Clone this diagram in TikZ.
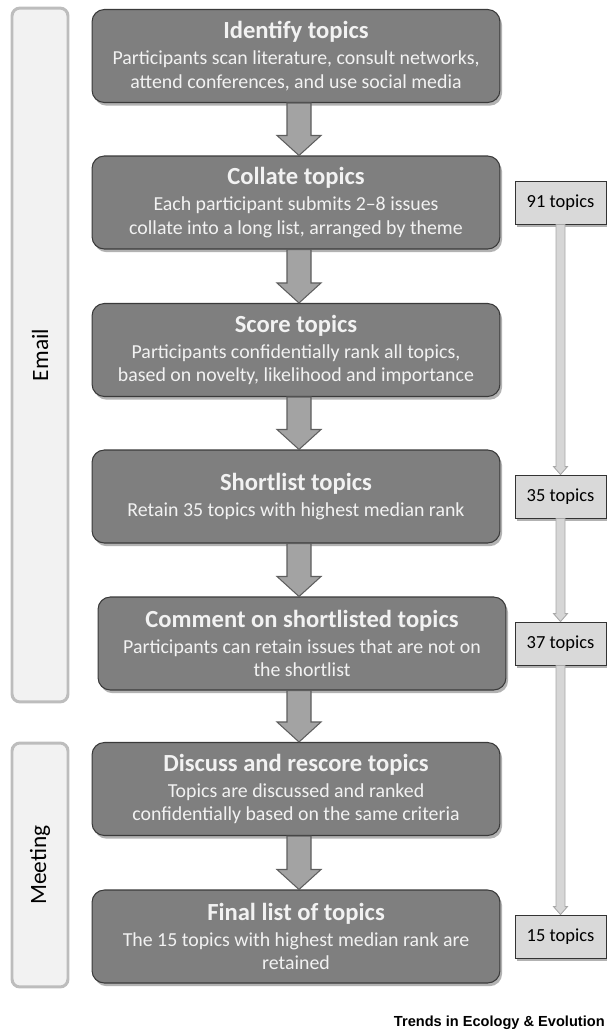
\documentclass[tikz,border=0pt]{standalone}
\usepackage{fontspec}
\setmainfont{Carlito}
\newfontfamily\journalfont{Liberation Sans}
\usetikzlibrary{calc,shadows}

\definecolor{stagefill}{HTML}{7F7F7F}
\definecolor{stageline}{HTML}{3A3A3A}
\definecolor{stagetext}{HTML}{F2F2F2}
\definecolor{phasefill}{HTML}{F2F2F2}
\definecolor{phaseline}{HTML}{BDBDBD}
\definecolor{countfill}{HTML}{D9D9D9}
\definecolor{flowfill}{HTML}{A3A3A3}
\definecolor{flowline}{HTML}{5E5E5E}
\definecolor{thinfill}{HTML}{D6D6D6}
\definecolor{thinline}{HTML}{A8A8A8}

\newcommand{\stagetitle}[1]{{\fontsize{14}{16}\selectfont\bfseries #1}}

\begin{document}
\begin{tikzpicture}[x=0.02cm,y=0.02cm,
    stage/.style={draw=stageline, line width=0.6pt, fill=stagefill, text=stagetext,
      rounded corners=7pt, align=center, minimum width=8.16cm, minimum height=1.86cm,
      inner sep=2pt, font=\fontsize{11.3}{13.4}\selectfont,
      drop shadow={shadow xshift=1.2pt, shadow yshift=-1.8pt, opacity=0.3, fill=black}},
    phase/.style={draw=phaseline, line width=1.7pt, fill=phasefill, rounded corners=4.5pt,
      minimum height=1.12cm, font=\fontsize{13.3}{15}\selectfont},
    count/.style={draw=black!80, line width=0.5pt, fill=countfill, minimum width=1.82cm,
      minimum height=0.86cm, font=\fontsize{10.5}{12}\selectfont,
      drop shadow={shadow xshift=1pt, shadow yshift=-1.5pt, opacity=0.3, fill=black}},
    flowarrow/.style={draw=flowline, line width=0.6pt, fill=flowfill},
    thinarrow/.style={draw=thinline, line width=0.5pt, fill=thinfill}]

  \useasboundingbox (0,0) rectangle (607,-1032);

  % phases
  \node[phase, rotate=90, minimum width=13.88cm] (email) at (40,-355) {Email};
  \node[phase, rotate=90, minimum width=4.88cm] (meeting) at (40,-865) {Meeting};

  % stages
  \node[stage] (identify) at (296,-56) {\stagetitle{Identify topics}\\[1.5pt]
    Participants scan literature, consult networks,\\ attend conferences, and use social media};
  \node[stage] (collate) at (296,-202.5) {\stagetitle{Collate topics}\\[1.5pt]
    Each participant submits 2--8 issues\\ collate into a long list, arranged by theme};
  \node[stage] (score) at (296,-350) {\stagetitle{Score topics}\\[1.5pt]
    Participants confidentially rank all topics,\\ based on novelty, likelihood and importance};
  \node[stage] (shortlist) at (296,-496.5) {\stagetitle{Shortlist topics}\\[1.5pt]
    Retain 35 topics with highest median rank};
  \node[stage] (comment) at (302,-643.5) {\stagetitle{Comment on shortlisted topics}\\[1.5pt]
    Participants can retain issues that are not on\\ the shortlist};
  \node[stage] (discuss) at (296,-789) {\stagetitle{Discuss and rescore topics}\\[1.5pt]
    Topics are discussed and ranked\\ confidentially based on the same criteria};
  \node[stage] (final) at (296,-936.5) {\stagetitle{Final list of topics}\\[1.5pt]
    The 15 topics with highest median rank are\\ retained};

  % block arrows down the middle
  \coordinate (spine) at (299,0);
  \foreach \a/\b in {identify/collate,collate/score,score/shortlist,shortlist/comment,
                     comment/discuss,discuss/final}
    \draw[flowarrow] ($(\a.south -| spine)+(-12,0)$) -- ($(\b.north -| spine)+(-12,20)$)
      -- ++(-10,0) -- (\b.north -| spine) -- ($(\b.north -| spine)+(22,20)$)
      -- ++(-10,0) -- ($(\a.south -| spine)+(12,0)$) -- cycle;

  % topic counts
  \coordinate (countcol) at (560.5,0);
  \node[count] (c91) at (collate -| countcol) {91 topics};
  \node[count] (c35) at (shortlist -| countcol) {35 topics};
  \node[count] (c37) at (comment -| countcol) {37 topics};
  \node[count] (c15) at (final -| countcol) {15 topics};

  \foreach \a/\b in {c91/c35,c35/c37,c37/c15}
    \draw[thinarrow] ($(\a.south)+(-4.5,0)$) -- ($(\b.north)+(-4.5,8)$)
      -- ++(-2.5,0) -- (\b.north) -- ($(\b.north)+(7,8)$)
      -- ++(-2.5,0) -- ($(\a.south)+(4.5,0)$) -- cycle;

  \node[anchor=base east, inner sep=0pt, font=\journalfont\bfseries\fontsize{8.3}{10}\selectfont]
    (journal) at (605,-1026) {Trends in Ecology \& Evolution};
\end{tikzpicture}
\end{document}
